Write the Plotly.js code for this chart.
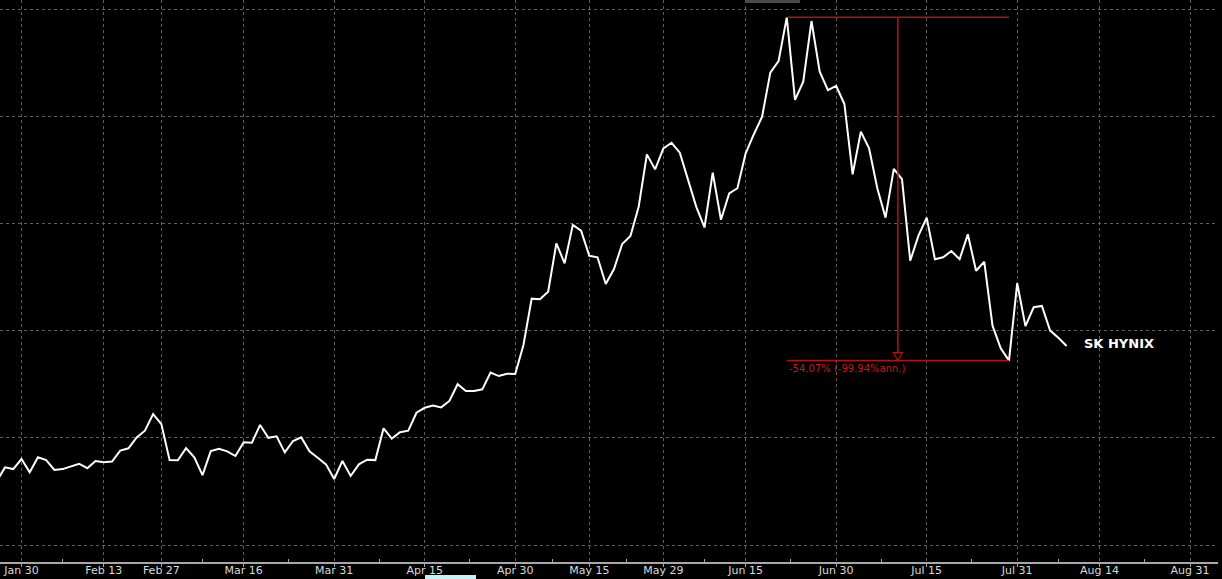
<!DOCTYPE html>
<html>
<head>
<meta charset="utf-8">
<script src="https://cdn.plot.ly/plotly-3.0.1.min.js"></script>
<style>
  html, body { margin: 0; padding: 0; background: #000; }
  #chart { width: 1222px; height: 579px; }
</style>
</head>
<body>
<div id="chart"></div>
<script>
// Daily closes (trading-day index 0..130)
const prices = [
  79.8, 86.2, 85.4, 90.1, 83.9, 90.9, 89.6, 85.0, 85.4, 86.5,
  87.9, 85.8, 89.2, 88.6, 88.9, 94.0, 95.1, 100.2, 103.3, 111.1,
  106.4, 89.6, 89.5, 95.2, 90.9, 82.6, 93.8, 94.9, 93.7, 91.5,
  97.9, 97.7, 106.0, 100.0, 100.7, 93.2, 98.5, 100.2, 93.7, 90.7,
  87.6, 80.8, 89.2, 82.2, 87.6, 89.8, 89.6, 104.4, 99.6, 102.6,
  103.3, 111.7, 114.0, 115.0, 114.2, 117.2, 125.0, 121.8, 121.8, 122.6,
  130.4, 128.8, 129.9, 129.8, 143.3, 164.9, 164.6, 168.1, 190.7, 181.4,
  199.3, 196.6, 184.9, 184.2, 171.7, 178.7, 190.4, 194.1, 207.8, 232.2,
  225.2, 235.0, 237.6, 233.0, 220.2, 207.7, 198.1, 223.7, 201.7, 214.0,
  216.4, 232.7, 241.6, 249.8, 270.3, 275.7, 296.1, 257.6, 266.1, 294.4,
  270.8, 262.2, 264.1, 255.7, 222.9, 242.8, 235.0, 216.4, 202.7, 225.4,
  220.6, 182.6, 194.3, 202.7, 183.3, 184.2, 187.1, 183.3, 194.9, 177.9,
  182.1, 152.3, 141.7, 136.0, 172.1, 152.1, 160.9, 161.5, 150.0, 146.7,
  142.8
];
const seriesName = 'SK HYNIX';
const tickLabels = ['Jan 30','Feb 13','Feb 27','Mar 16','Mar 31','Apr 15','Apr 30','May 15','May 29','Jun 15','Jun 30','Jul 15','Jul 31','Aug 14','Aug 31'];
const tickIdx = [3, 13, 20, 30, 41, 52, 63, 72, 81, 91, 102, 113, 124, 134, 145];
const minorIdx = [8, 25, 35.5, 46.5, 57.5, 67.5, 76.5, 86, 96.5, 107.5, 118.5, 129, 139.5];
const gridVals = [50, 100, 150, 200, 250, 300];
const changeText = '-54.07% (-99.94%ann.)';

const xs = prices.map((_, i) => i);

// peak and subsequent trough
let peakI = 0;
prices.forEach((v, i) => { if (v > prices[peakI]) peakI = i; });
let troughI = peakI;
for (let i = peakI; i < prices.length; i++) if (prices[i] < prices[troughI]) troughI = i;
const peakV = prices[peakI], troughV = prices[troughI];
const midI = (peakI + troughI) / 2;
const lastI = prices.length - 1;

const red = '#b31212';
const gridCol = '#5e5e5e';

const traces = [{
  x: xs, y: prices, type: 'scatter', mode: 'lines',
  line: { color: '#ffffff', width: 2 },
  hoverinfo: 'skip', showlegend: false
}];

const shapes = [
  { type: 'line', xref: 'x', yref: 'y', x0: peakI, x1: troughI, y0: peakV, y1: peakV, line: { color: red, width: 1.5 } },
  { type: 'line', xref: 'x', yref: 'y', x0: peakI, x1: troughI, y0: troughV, y1: troughV, line: { color: red, width: 1.5 } },
  { type: 'line', xref: 'x', yref: 'y', x0: midI, x1: midI, y0: peakV, y1: troughV, line: { color: red, width: 1.5 } },
  { type: 'path', xref: 'x', yref: 'y', xsizemode: 'pixel', ysizemode: 'pixel',
    xanchor: midI, yanchor: troughV, path: 'M -4.5 8 L 4.5 8 L 0 0 Z',
    fillcolor: '#000000', line: { color: red, width: 1.2 } },
  // window chrome artifacts
  { type: 'rect', xref: 'paper', yref: 'paper', x0: 745/1218, x1: 800/1218, y0: 1, y1: 1 - 3/562,
    fillcolor: '#4a4a4a', line: { width: 0 } },
  { type: 'rect', xref: 'paper', yref: 'paper', x0: 425/1218, x1: 476/1218, y0: -13/562, y1: -18/562,
    fillcolor: '#c9eff7', line: { width: 0 } }
];

const annotations = [
  { xref: 'x', yref: 'y', x: peakI, y: troughV, text: changeText, showarrow: false,
    xanchor: 'left', yanchor: 'top', xshift: 0, yshift: 0,
    font: { family: 'DejaVu Sans', size: 10, color: '#c41a1a' } },
  { xref: 'x', yref: 'y', x: lastI, y: prices[lastI], text: '<b>' + seriesName + '</b>', showarrow: false,
    xanchor: 'left', yanchor: 'middle', xshift: 15, yshift: 3,
    font: { family: 'DejaVu Sans', size: 13, color: '#ffffff' } }
];

const layout = {
  width: 1222, height: 579,
  margin: { l: 0, r: 4, t: 0, b: 17, pad: 0 },
  paper_bgcolor: '#000000', plot_bgcolor: '#000000',
  showlegend: false,
  hovermode: false,
  xaxis: {
    range: [0.39, 148.4], tickmode: 'array', tickvals: tickIdx, ticktext: tickLabels,
    showgrid: true, gridcolor: gridCol, gridwidth: 1, griddash: 'dot',
    showline: true, linecolor: '#a8a8a8', linewidth: 1.5,
    ticks: 'outside', ticklen: 3, tickcolor: '#a8a8a8',
    ticklabelstandoff: -6,
    tickfont: { family: 'DejaVu Sans', size: 11, color: '#d9d9d9' },
    minor: { tickmode: 'array', tickvals: minorIdx, ticks: 'inside', ticklen: 3, tickcolor: '#a8a8a8', showgrid: false },
    zeroline: false, fixedrange: true
  },
  yaxis: {
    range: [42.07, 304.2], tickmode: 'array', tickvals: gridVals,
    showticklabels: false, showgrid: true, gridcolor: gridCol, gridwidth: 1, griddash: 'dot',
    zeroline: false, showline: false, ticks: '', fixedrange: true
  },
  shapes: shapes,
  annotations: annotations
};

Plotly.newPlot('chart', traces, layout, { displayModeBar: false, staticPlot: true });
</script>
</body>
</html>
